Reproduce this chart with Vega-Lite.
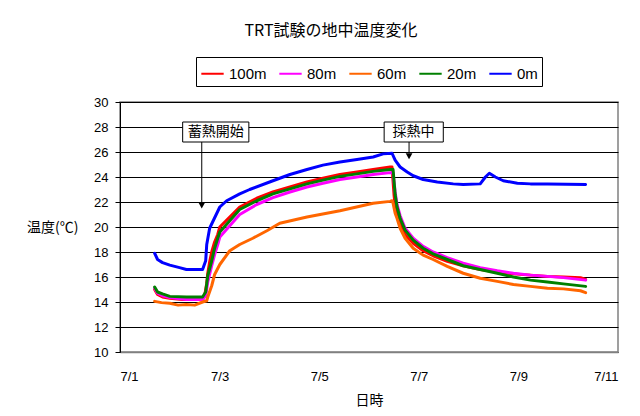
{
  "$schema": "https://vega.github.io/schema/vega-lite/v6.json",
  "autosize": "none",
  "width": 498,
  "height": 250,
  "padding": {"left": 120, "top": 102, "right": 22, "bottom": 64},
  "background": "white",
  "title": {
    "text": "TRT試験の地中温度変化",
    "font": "Noto Sans CJK JP",
    "fontSize": 16,
    "fontWeight": "normal",
    "color": "black",
    "anchor": "middle",
    "frame": "group",
    "dx": -38,
    "baseline": "alphabetic",
    "offset": 5
  },
  "config": {
    "view": {"stroke": "#808080", "strokeWidth": 1.5},
    "axisX": {
      "labelFont": "Liberation Sans", "labelFontSize": 13, "labelColor": "black",
      "tickSize": 0, "labelPadding": 18, "grid": false, "domainColor": "#808080", "domainWidth": 1.5,
      "titleFont": "Noto Sans CJK JP", "titleFontSize": 14, "titleFontWeight": "normal", "titleColor": "black", "titlePadding": 10
    },
    "axisY": {
      "labelFont": "Liberation Sans", "labelFontSize": 13, "labelColor": "black", "labelOverlap": false,
      "grid": true, "gridColor": "#000000", "gridOpacity": 1, "gridWidth": 1,
      "tickColor": "#000000", "tickSize": 5, "domainColor": "#000000", "labelPadding": 7,
      "titleFont": "Noto Sans CJK JP", "titleFontSize": 14, "titleFontWeight": "normal", "titleColor": "black",
      "titleAngle": 0, "titleX": -42, "titleY": 125, "titleAlign": "right", "titleBaseline": "middle"
    }
  },
  "datasets": {
    "temps": [
      {"time":"2024-07-01T16:42","depth":"100m","temp":15.0},
      {"time":"2024-07-01T18:06","depth":"100m","temp":14.6},
      {"time":"2024-07-01T20:30","depth":"100m","temp":14.4},
      {"time":"2024-07-02T00:00","depth":"100m","temp":14.3},
      {"time":"2024-07-02T06:00","depth":"100m","temp":14.2},
      {"time":"2024-07-02T12:00","depth":"100m","temp":14.2},
      {"time":"2024-07-02T15:48","depth":"100m","temp":14.2},
      {"time":"2024-07-02T16:48","depth":"100m","temp":14.5},
      {"time":"2024-07-02T17:48","depth":"100m","temp":15.5},
      {"time":"2024-07-02T18:18","depth":"100m","temp":16.3},
      {"time":"2024-07-02T19:12","depth":"100m","temp":17.2},
      {"time":"2024-07-02T20:12","depth":"100m","temp":18.0},
      {"time":"2024-07-02T21:36","depth":"100m","temp":18.8},
      {"time":"2024-07-02T23:06","depth":"100m","temp":19.4},
      {"time":"2024-07-03T00:06","depth":"100m","temp":20.0},
      {"time":"2024-07-03T09:42","depth":"100m","temp":21.6},
      {"time":"2024-07-03T17:54","depth":"100m","temp":22.3},
      {"time":"2024-07-04T01:42","depth":"100m","temp":22.8},
      {"time":"2024-07-04T09:54","depth":"100m","temp":23.2},
      {"time":"2024-07-04T18:06","depth":"100m","temp":23.6},
      {"time":"2024-07-05T01:48","depth":"100m","temp":23.9},
      {"time":"2024-07-05T10:00","depth":"100m","temp":24.2},
      {"time":"2024-07-05T18:12","depth":"100m","temp":24.4},
      {"time":"2024-07-06T02:00","depth":"100m","temp":24.6},
      {"time":"2024-07-06T10:12","depth":"100m","temp":24.8},
      {"time":"2024-07-06T11:06","depth":"100m","temp":24.8},
      {"time":"2024-07-06T12:06","depth":"100m","temp":22.5},
      {"time":"2024-07-06T12:36","depth":"100m","temp":21.8},
      {"time":"2024-07-06T13:30","depth":"100m","temp":21.0},
      {"time":"2024-07-06T15:00","depth":"100m","temp":20.3},
      {"time":"2024-07-06T17:24","depth":"100m","temp":19.4},
      {"time":"2024-07-06T21:18","depth":"100m","temp":18.7},
      {"time":"2024-07-07T02:06","depth":"100m","temp":18.1},
      {"time":"2024-07-07T06:54","depth":"100m","temp":17.7},
      {"time":"2024-07-07T13:42","depth":"100m","temp":17.25},
      {"time":"2024-07-07T21:24","depth":"100m","temp":16.9},
      {"time":"2024-07-08T05:36","depth":"100m","temp":16.6},
      {"time":"2024-07-08T13:48","depth":"100m","temp":16.4},
      {"time":"2024-07-08T21:36","depth":"100m","temp":16.25},
      {"time":"2024-07-09T05:48","depth":"100m","temp":16.15},
      {"time":"2024-07-09T14:00","depth":"100m","temp":16.05},
      {"time":"2024-07-09T21:42","depth":"100m","temp":16.0},
      {"time":"2024-07-10T05:54","depth":"100m","temp":15.95},
      {"time":"2024-07-10T08:24","depth":"100m","temp":15.8},

      {"time":"2024-07-01T16:42","depth":"80m","temp":15.1},
      {"time":"2024-07-01T18:06","depth":"80m","temp":14.7},
      {"time":"2024-07-01T20:30","depth":"80m","temp":14.5},
      {"time":"2024-07-02T00:00","depth":"80m","temp":14.35},
      {"time":"2024-07-02T08:00","depth":"80m","temp":14.2},
      {"time":"2024-07-02T15:48","depth":"80m","temp":14.2},
      {"time":"2024-07-02T17:18","depth":"80m","temp":14.5},
      {"time":"2024-07-02T18:18","depth":"80m","temp":15.6},
      {"time":"2024-07-02T20:12","depth":"80m","temp":16.9},
      {"time":"2024-07-02T21:36","depth":"80m","temp":17.8},
      {"time":"2024-07-02T23:06","depth":"80m","temp":18.6},
      {"time":"2024-07-03T00:06","depth":"80m","temp":19.2},
      {"time":"2024-07-03T09:42","depth":"80m","temp":21.0},
      {"time":"2024-07-03T17:54","depth":"80m","temp":21.8},
      {"time":"2024-07-04T01:42","depth":"80m","temp":22.35},
      {"time":"2024-07-04T09:54","depth":"80m","temp":22.8},
      {"time":"2024-07-04T18:06","depth":"80m","temp":23.2},
      {"time":"2024-07-05T01:48","depth":"80m","temp":23.5},
      {"time":"2024-07-05T10:00","depth":"80m","temp":23.8},
      {"time":"2024-07-05T18:12","depth":"80m","temp":24.0},
      {"time":"2024-07-06T02:00","depth":"80m","temp":24.2},
      {"time":"2024-07-06T10:12","depth":"80m","temp":24.35},
      {"time":"2024-07-06T11:36","depth":"80m","temp":24.35},
      {"time":"2024-07-06T12:36","depth":"80m","temp":22.8},
      {"time":"2024-07-06T13:30","depth":"80m","temp":21.8},
      {"time":"2024-07-06T15:00","depth":"80m","temp":20.9},
      {"time":"2024-07-06T17:24","depth":"80m","temp":19.9},
      {"time":"2024-07-06T21:18","depth":"80m","temp":19.1},
      {"time":"2024-07-07T02:06","depth":"80m","temp":18.45},
      {"time":"2024-07-07T06:54","depth":"80m","temp":18.0},
      {"time":"2024-07-07T13:42","depth":"80m","temp":17.55},
      {"time":"2024-07-07T21:24","depth":"80m","temp":17.1},
      {"time":"2024-07-08T05:36","depth":"80m","temp":16.75},
      {"time":"2024-07-08T13:48","depth":"80m","temp":16.5},
      {"time":"2024-07-08T21:36","depth":"80m","temp":16.3},
      {"time":"2024-07-09T05:48","depth":"80m","temp":16.15},
      {"time":"2024-07-09T14:00","depth":"80m","temp":16.05},
      {"time":"2024-07-09T21:42","depth":"80m","temp":15.95},
      {"time":"2024-07-10T08:24","depth":"80m","temp":15.75},

      {"time":"2024-07-01T16:42","depth":"60m","temp":14.05},
      {"time":"2024-07-01T20:00","depth":"60m","temp":13.95},
      {"time":"2024-07-02T00:00","depth":"60m","temp":13.9},
      {"time":"2024-07-02T04:00","depth":"60m","temp":13.75},
      {"time":"2024-07-02T08:00","depth":"60m","temp":13.8},
      {"time":"2024-07-02T12:00","depth":"60m","temp":13.75},
      {"time":"2024-07-02T15:48","depth":"60m","temp":14.0},
      {"time":"2024-07-02T17:48","depth":"60m","temp":14.1},
      {"time":"2024-07-02T18:18","depth":"60m","temp":14.4},
      {"time":"2024-07-02T20:12","depth":"60m","temp":15.3},
      {"time":"2024-07-02T21:36","depth":"60m","temp":16.2},
      {"time":"2024-07-03T00:06","depth":"60m","temp":17.0},
      {"time":"2024-07-03T04:54","depth":"60m","temp":18.1},
      {"time":"2024-07-03T09:42","depth":"60m","temp":18.6},
      {"time":"2024-07-03T16:00","depth":"60m","temp":19.1},
      {"time":"2024-07-03T22:48","depth":"60m","temp":19.7},
      {"time":"2024-07-04T05:00","depth":"60m","temp":20.3},
      {"time":"2024-07-04T18:06","depth":"60m","temp":20.8},
      {"time":"2024-07-05T10:00","depth":"60m","temp":21.3},
      {"time":"2024-07-06T02:00","depth":"60m","temp":21.9},
      {"time":"2024-07-06T10:12","depth":"60m","temp":22.05},
      {"time":"2024-07-06T11:06","depth":"60m","temp":22.1},
      {"time":"2024-07-06T11:36","depth":"60m","temp":21.9},
      {"time":"2024-07-06T12:36","depth":"60m","temp":21.1},
      {"time":"2024-07-06T13:30","depth":"60m","temp":20.7},
      {"time":"2024-07-06T15:00","depth":"60m","temp":19.9},
      {"time":"2024-07-06T17:24","depth":"60m","temp":19.1},
      {"time":"2024-07-06T21:18","depth":"60m","temp":18.3},
      {"time":"2024-07-07T02:06","depth":"60m","temp":17.75},
      {"time":"2024-07-07T06:54","depth":"60m","temp":17.4},
      {"time":"2024-07-07T13:42","depth":"60m","temp":16.85},
      {"time":"2024-07-07T21:24","depth":"60m","temp":16.3},
      {"time":"2024-07-08T05:36","depth":"60m","temp":15.9},
      {"time":"2024-07-08T13:48","depth":"60m","temp":15.65},
      {"time":"2024-07-08T21:36","depth":"60m","temp":15.4},
      {"time":"2024-07-09T05:48","depth":"60m","temp":15.25},
      {"time":"2024-07-09T14:00","depth":"60m","temp":15.1},
      {"time":"2024-07-09T21:42","depth":"60m","temp":15.05},
      {"time":"2024-07-10T05:54","depth":"60m","temp":14.9},
      {"time":"2024-07-10T08:24","depth":"60m","temp":14.75},

      {"time":"2024-07-01T16:42","depth":"20m","temp":15.2},
      {"time":"2024-07-01T18:06","depth":"20m","temp":14.8},
      {"time":"2024-07-01T20:30","depth":"20m","temp":14.65},
      {"time":"2024-07-02T00:00","depth":"20m","temp":14.45},
      {"time":"2024-07-02T08:00","depth":"20m","temp":14.4},
      {"time":"2024-07-02T15:48","depth":"20m","temp":14.4},
      {"time":"2024-07-02T17:18","depth":"20m","temp":14.8},
      {"time":"2024-07-02T18:18","depth":"20m","temp":16.1},
      {"time":"2024-07-02T20:12","depth":"20m","temp":17.3},
      {"time":"2024-07-02T21:36","depth":"20m","temp":18.3},
      {"time":"2024-07-02T23:06","depth":"20m","temp":19.1},
      {"time":"2024-07-03T00:06","depth":"20m","temp":19.6},
      {"time":"2024-07-03T09:42","depth":"20m","temp":21.4},
      {"time":"2024-07-03T17:54","depth":"20m","temp":22.1},
      {"time":"2024-07-04T01:42","depth":"20m","temp":22.65},
      {"time":"2024-07-04T09:54","depth":"20m","temp":23.05},
      {"time":"2024-07-04T18:06","depth":"20m","temp":23.45},
      {"time":"2024-07-05T01:48","depth":"20m","temp":23.75},
      {"time":"2024-07-05T10:00","depth":"20m","temp":24.05},
      {"time":"2024-07-05T18:12","depth":"20m","temp":24.25},
      {"time":"2024-07-06T02:00","depth":"20m","temp":24.45},
      {"time":"2024-07-06T10:12","depth":"20m","temp":24.6},
      {"time":"2024-07-06T11:36","depth":"20m","temp":24.6},
      {"time":"2024-07-06T12:36","depth":"20m","temp":22.6},
      {"time":"2024-07-06T13:30","depth":"20m","temp":21.6},
      {"time":"2024-07-06T15:00","depth":"20m","temp":20.7},
      {"time":"2024-07-06T17:24","depth":"20m","temp":19.75},
      {"time":"2024-07-06T21:18","depth":"20m","temp":18.95},
      {"time":"2024-07-07T02:06","depth":"20m","temp":18.3},
      {"time":"2024-07-07T06:54","depth":"20m","temp":17.85},
      {"time":"2024-07-07T13:42","depth":"20m","temp":17.4},
      {"time":"2024-07-07T21:24","depth":"20m","temp":16.9},
      {"time":"2024-07-08T05:36","depth":"20m","temp":16.6},
      {"time":"2024-07-08T13:48","depth":"20m","temp":16.3},
      {"time":"2024-07-08T21:36","depth":"20m","temp":16.0},
      {"time":"2024-07-09T05:48","depth":"20m","temp":15.75},
      {"time":"2024-07-09T14:00","depth":"20m","temp":15.6},
      {"time":"2024-07-09T21:42","depth":"20m","temp":15.45},
      {"time":"2024-07-10T08:24","depth":"20m","temp":15.25},

      {"time":"2024-07-01T16:42","depth":"0m","temp":17.9},
      {"time":"2024-07-01T18:06","depth":"0m","temp":17.4},
      {"time":"2024-07-01T20:30","depth":"0m","temp":17.15},
      {"time":"2024-07-02T00:00","depth":"0m","temp":16.95},
      {"time":"2024-07-02T04:42","depth":"0m","temp":16.75},
      {"time":"2024-07-02T08:00","depth":"0m","temp":16.6},
      {"time":"2024-07-02T12:00","depth":"0m","temp":16.6},
      {"time":"2024-07-02T15:48","depth":"0m","temp":16.6},
      {"time":"2024-07-02T17:18","depth":"0m","temp":17.3},
      {"time":"2024-07-02T17:48","depth":"0m","temp":18.6},
      {"time":"2024-07-02T19:12","depth":"0m","temp":19.9},
      {"time":"2024-07-03T00:06","depth":"0m","temp":21.6},
      {"time":"2024-07-03T03:24","depth":"0m","temp":22.1},
      {"time":"2024-07-03T09:42","depth":"0m","temp":22.65},
      {"time":"2024-07-03T14:30","depth":"0m","temp":23.0},
      {"time":"2024-07-04T01:42","depth":"0m","temp":23.7},
      {"time":"2024-07-04T09:54","depth":"0m","temp":24.2},
      {"time":"2024-07-04T18:06","depth":"0m","temp":24.6},
      {"time":"2024-07-05T01:48","depth":"0m","temp":24.95},
      {"time":"2024-07-05T10:00","depth":"0m","temp":25.2},
      {"time":"2024-07-05T18:12","depth":"0m","temp":25.4},
      {"time":"2024-07-06T02:00","depth":"0m","temp":25.6},
      {"time":"2024-07-06T06:48","depth":"0m","temp":25.85},
      {"time":"2024-07-06T11:06","depth":"0m","temp":25.9},
      {"time":"2024-07-06T12:36","depth":"0m","temp":25.35},
      {"time":"2024-07-06T15:00","depth":"0m","temp":24.8},
      {"time":"2024-07-06T18:24","depth":"0m","temp":24.4},
      {"time":"2024-07-06T21:18","depth":"0m","temp":24.1},
      {"time":"2024-07-07T02:06","depth":"0m","temp":23.8},
      {"time":"2024-07-07T08:54","depth":"0m","temp":23.6},
      {"time":"2024-07-07T16:36","depth":"0m","temp":23.45},
      {"time":"2024-07-07T21:24","depth":"0m","temp":23.4},
      {"time":"2024-07-08T05:36","depth":"0m","temp":23.45},
      {"time":"2024-07-08T08:06","depth":"0m","temp":24.0},
      {"time":"2024-07-08T10:00","depth":"0m","temp":24.3},
      {"time":"2024-07-08T12:54","depth":"0m","temp":24.0},
      {"time":"2024-07-08T16:42","depth":"0m","temp":23.7},
      {"time":"2024-07-08T23:30","depth":"0m","temp":23.5},
      {"time":"2024-07-09T05:48","depth":"0m","temp":23.45},
      {"time":"2024-07-09T14:00","depth":"0m","temp":23.45},
      {"time":"2024-07-10T08:24","depth":"0m","temp":23.4}
    ],
    "boxes": [
      {"x1":"2024-07-02T06:12","x2":"2024-07-03T14:06","y1":26.8,"y2":28.4,"tx":"2024-07-02T22:06","ty":27.6,"label":"蓄熱開始"},
      {"x1":"2024-07-06T07:18","x2":"2024-07-07T11:48","y1":26.8,"y2":28.4,"tx":"2024-07-06T21:30","ty":27.6,"label":"採熱中"}
    ],
    "arrows": [
      {"ax":"2024-07-02T15:24","ay1":26.8,"ay2":21.9,"hy":21.72},
      {"ax":"2024-07-06T19:18","ay1":26.8,"ay2":25.9,"hy":25.66}
    ]
  },
  "layer": [
    {
      "data": {"name": "temps"},
      "mark": {"type": "line", "strokeWidth": 3, "strokeCap": "round", "strokeJoin": "round"},
      "encoding": {
        "x": {"field": "time", "type": "temporal", "title": "日時",
          "scale": {"domain": [{"year":2024,"month":7,"date":1},{"year":2024,"month":7,"date":11}]},
          "axis": {"format": "%-m/%-d", "values": [{"year":2024,"month":7,"date":1},{"year":2024,"month":7,"date":3},{"year":2024,"month":7,"date":5},{"year":2024,"month":7,"date":7},{"year":2024,"month":7,"date":9},{"year":2024,"month":7,"date":11}]}},
        "y": {"field": "temp", "type": "quantitative", "title": "温度(℃)",
          "scale": {"domain": [10, 30], "nice": false, "zero": false},
          "axis": {"values": [10,12,14,16,18,20,22,24,26,28,30], "tickCount": 11, "labelOverlap": false}},
        "color": {"field": "depth", "type": "nominal",
          "scale": {"domain": ["100m","80m","60m","20m","0m"], "range": ["#FF0000","#FF00FF","#FF6600","#008000","#0000FF"]},
          "legend": {"title": null, "orient": "none", "legendX": 76, "legendY": -45, "direction": "horizontal",
            "strokeColor": "black", "padding": 4, "fillColor": "white",
            "symbolType": "stroke", "symbolSize": 500, "symbolStrokeWidth": 2,
            "labelFont": "Liberation Sans", "labelFontSize": 15, "labelColor": "black", "labelOffset": 4, "columnPadding": 8}}
      }
    },
    {
      "data": {"name": "arrows"},
      "mark": {"type": "rule", "color": "black", "strokeWidth": 1},
      "encoding": {
        "x": {"field": "ax", "type": "temporal", "title": "日時"},
        "y": {"field": "ay1", "type": "quantitative", "title": "温度(℃)", "axis": {"values": [10,12,14,16,18,20,22,24,26,28,30], "tickCount": 11, "labelOverlap": false}},
        "y2": {"field": "ay2"}
      }
    },
    {
      "data": {"name": "arrows"},
      "mark": {"type": "point", "shape": "triangle-down", "filled": true, "color": "black", "size": 45, "opacity": 1},
      "encoding": {
        "x": {"field": "ax", "type": "temporal", "title": "日時"},
        "y": {"field": "hy", "type": "quantitative", "title": "温度(℃)", "axis": {"values": [10,12,14,16,18,20,22,24,26,28,30], "tickCount": 11, "labelOverlap": false}}
      }
    },
    {
      "data": {"name": "boxes"},
      "mark": {"type": "rect", "fill": "white", "stroke": "black", "strokeWidth": 1},
      "encoding": {
        "x": {"field": "x1", "type": "temporal", "title": "日時"},
        "x2": {"field": "x2"},
        "y": {"field": "y1", "type": "quantitative", "title": "温度(℃)", "axis": {"values": [10,12,14,16,18,20,22,24,26,28,30], "tickCount": 11, "labelOverlap": false}},
        "y2": {"field": "y2"}
      }
    },
    {
      "data": {"name": "boxes"},
      "mark": {"type": "text", "font": "Noto Sans CJK JP", "fontSize": 14, "color": "black", "align": "center", "baseline": "middle"},
      "encoding": {
        "x": {"field": "tx", "type": "temporal", "title": "日時"},
        "y": {"field": "ty", "type": "quantitative", "title": "温度(℃)", "axis": {"values": [10,12,14,16,18,20,22,24,26,28,30], "tickCount": 11, "labelOverlap": false}},
        "text": {"field": "label", "type": "nominal"}
      }
    }
  ]
}
